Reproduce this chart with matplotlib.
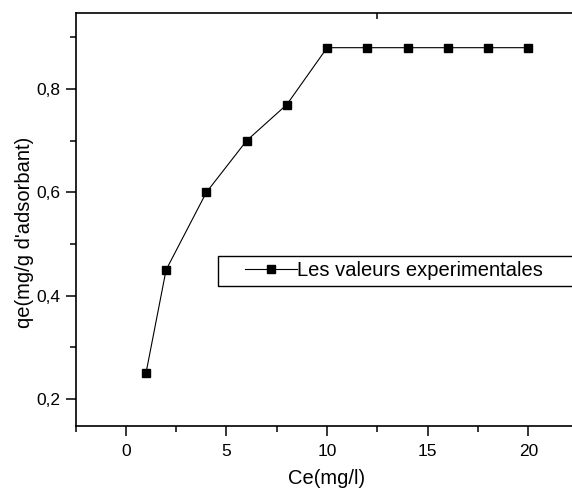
import matplotlib
matplotlib.use('Agg')
from matplotlib import pyplot as plt
import matplotlib.ticker as ticker
from matplotlib.patches import Rectangle

# Experimental values (Ce in mg/l, qe in mg/g)
ce = [1, 2, 4, 6, 8, 10, 12, 14, 16, 18, 20]
qe = [0.25, 0.45, 0.60, 0.70, 0.77, 0.88, 0.88, 0.88, 0.88, 0.88, 0.88]
x_ticks = [0, 5, 10, 15, 20]
series_label = 'Les valeurs experimentales'

plt.rcParams['font.family'] = ['Liberation Sans', 'DejaVu Sans']

W, H = 572, 488
fig = plt.figure(figsize=(W / 100, H / 100), dpi=100)

# Origin-like frame, the right part runs off the page
x0, x1 = -2.5, 27.5
px_per_unit = 20.13
ax = fig.add_axes([75.5 / W, 62 / H, (x1 - x0) * px_per_unit / W, (426 - 12.8) / H])

ax.plot(ce, qe, '-', color='black', linewidth=0.8, marker='s', markersize=6,
        markerfacecolor='black', markeredgecolor='black', label=series_label)

ax.set_xlim(x0, x1)
ax.set_ylim(0.148, 0.9475)

ax.xaxis.set_major_locator(ticker.FixedLocator(x_ticks))
ax.xaxis.set_minor_locator(ticker.MultipleLocator(2.5))
ax.yaxis.set_major_locator(ticker.MultipleLocator(0.2))
ax.yaxis.set_minor_locator(ticker.MultipleLocator(0.1))
ax.yaxis.set_major_formatter(ticker.FuncFormatter(lambda v, p: f'{v:.1f}'.replace('.', ',')))
ax.xaxis.set_major_formatter(ticker.FuncFormatter(lambda v, p: f'{v:.0f}'))

for s in ax.spines.values():
    s.set_linewidth(1.2)

ax.tick_params(which='major', direction='out', length=7, width=1.1, labelsize=12.5)
ax.tick_params(which='minor', direction='out', length=4, width=1.1)
ax.tick_params(axis='x', which='major', pad=6)
ax.tick_params(axis='y', which='major', pad=4)

# single small tick on the top axis, as in the original
top = ax.secondary_xaxis('top')
top.set_xticks([(x0 + x1) / 2])
top.set_xticklabels([])
top.tick_params(direction='in', length=4, width=1.1)
top.spines['top'].set_visible(False)

# axis titles placed by hand (the axes run past the page edge)
fig.text(327 / W, 1 - 478 / H, 'Ce(mg/l)', fontsize=14.5, ha='center', va='center')
fig.text(25 / W, 1 - 232 / H, "qe(mg/g d'adsorbant)", fontsize=14.5, rotation=90,
         ha='center', va='center')

# legend frame and entry
fig.patches.append(Rectangle((218 / W, 1 - 286 / H), 400 / W, 30 / H, transform=fig.transFigure,
                             fill=False, edgecolor='black', linewidth=1.0))
ax.legend(loc='center left', bbox_to_anchor=(245 / W, 1 - 271 / H),
          bbox_transform=fig.transFigure, frameon=False, fontsize=14.5,
          handlelength=2.6, handletextpad=0.0, borderpad=0, borderaxespad=0)

fig.savefig('out.png', dpi=100)
